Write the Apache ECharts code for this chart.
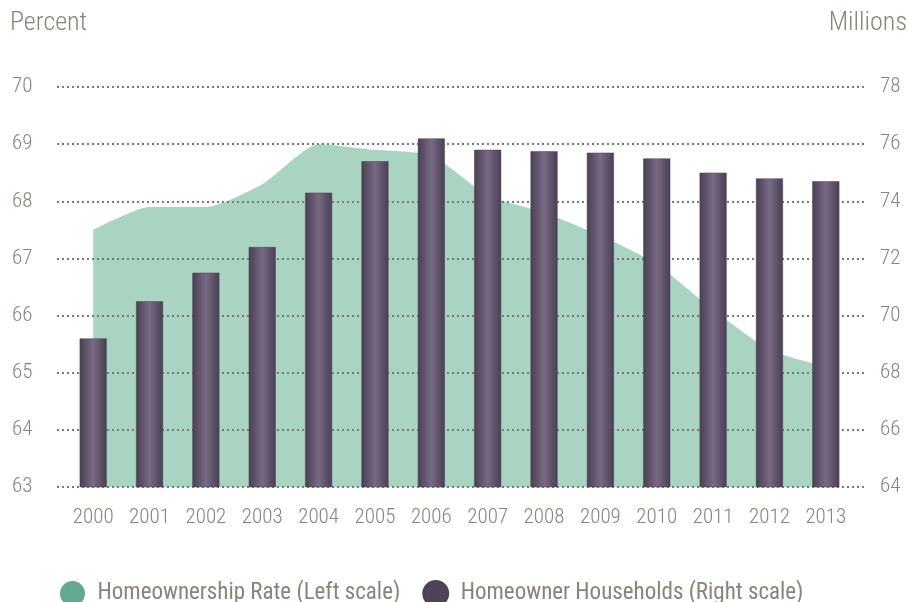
<!DOCTYPE html>
<html>
<head>
<meta charset="utf-8">
<script src="https://cdn.jsdelivr.net/npm/echarts@6/dist/echarts.min.js"></script>
<style>
  html, body { margin: 0; padding: 0; background: #ffffff; }
  #chart { width: 910px; height: 602px; }
</style>
</head>
<body>
<div id="chart"></div>
<script>
// Years on the category axis
const years = ['2000','2001','2002','2003','2004','2005','2006','2007','2008','2009','2010','2011','2012','2013'];
// Homeownership rate, percent (left scale)
const homeownershipRate = [67.5, 67.9, 67.9, 68.3, 69.0, 68.9, 68.8, 68.1, 67.8, 67.4, 66.9, 66.1, 65.4, 65.1];
// Homeowner households, millions (right scale)
const ownerHouseholds = [69.2, 70.5, 71.5, 72.4, 74.3, 75.4, 76.2, 75.8, 75.75, 75.7, 75.5, 75.0, 74.8, 74.7];
// Axis ranges
const leftScale = { min: 63, max: 70, interval: 1 };
const rightScale = { min: 64, max: 78, interval: 2 };

const FONT = '"Roboto Condensed", "DejaVu Sans Condensed", sans-serif';
const TEXT = '#8b8279';
const RATE_NAME = 'Homeownership Rate (Left scale)';
const HH_NAME = 'Homeowner Households (Right scale)';

const chart = echarts.init(document.getElementById('chart'));

// cylinder-like shading across each bar
const barGradient = new echarts.graphic.LinearGradient(0, 0, 1, 0, [
  { offset: 0, color: '#4a3f53' },
  { offset: 0.5, color: '#786a84' },
  { offset: 1, color: '#4a3f53' }
]);

const labelStyle = { fontSize: 21, color: TEXT, fontFamily: FONT, fontWeight: 300 };

chart.setOption({
  backgroundColor: '#ffffff',
  animation: false,
  textStyle: { fontFamily: FONT, color: TEXT },
  graphic: [
    { type: 'text', left: 10, top: 10, style: { text: 'Percent', font: '300 26px ' + FONT, fill: TEXT } },
    { type: 'text', right: 3, top: 10, style: { text: 'Millions', font: '300 26px ' + FONT, fill: TEXT } }
  ],
  legend: {
    left: 55, top: 575,
    icon: 'circle', itemWidth: 26, itemHeight: 25, itemGap: 22,
    textStyle: { fontFamily: FONT, fontSize: 23, fontWeight: 'normal', color: TEXT, padding: [0, 0, 0, 7] },
    data: [
      { name: RATE_NAME, itemStyle: { color: '#62a98f' } },
      { name: HH_NAME, itemStyle: { color: '#4f4358' } }
    ]
  },
  grid: [
    { left: 65, right: 56, top: 87, bottom: 115 },
    // wider grid carrying only the dotted guide lines
    { left: 57, right: 45, top: 87, bottom: 115 }
  ],
  xAxis: [
    {
      type: 'category', gridIndex: 0, data: years, boundaryGap: true,
      axisLine: { show: false }, axisTick: { show: false },
      axisLabel: { interval: 0, margin: 20, ...labelStyle }
    },
    { type: 'value', gridIndex: 1, min: 0, max: 1, show: false }
  ],
  yAxis: [
    {
      type: 'value', gridIndex: 0, position: 'left', ...leftScale,
      axisLine: { show: false }, axisTick: { show: false }, splitLine: { show: false },
      axisLabel: { align: 'left', margin: 53, ...labelStyle }
    },
    {
      type: 'value', gridIndex: 0, position: 'right', ...rightScale,
      axisLine: { show: false }, axisTick: { show: false }, splitLine: { show: false },
      axisLabel: { margin: 26, ...labelStyle }
    },
    {
      type: 'value', gridIndex: 1, ...leftScale, z: 3,
      axisLine: { show: false }, axisTick: { show: false }, axisLabel: { show: false },
      splitLine: { show: true, lineStyle: { color: '#777777', width: 2, type: [2, 3] } }
    }
  ],
  series: [
    {
      name: RATE_NAME,
      type: 'line', xAxisIndex: 0, yAxisIndex: 0, z: 1,
      data: homeownershipRate, symbol: 'none', smooth: 0.2,
      itemStyle: { color: '#62a98f' },
      lineStyle: { width: 0, color: '#a9d4c2' },
      areaStyle: { color: '#a9d4c2', opacity: 1, origin: 'start' }
    },
    {
      name: HH_NAME,
      type: 'bar', xAxisIndex: 0, yAxisIndex: 1, z: 5,
      data: ownerHouseholds, barWidth: 27,
      itemStyle: { color: barGradient, borderColor: '#4b4054', borderWidth: 0.5 }
    }
  ]
});
</script>
</body>
</html>
